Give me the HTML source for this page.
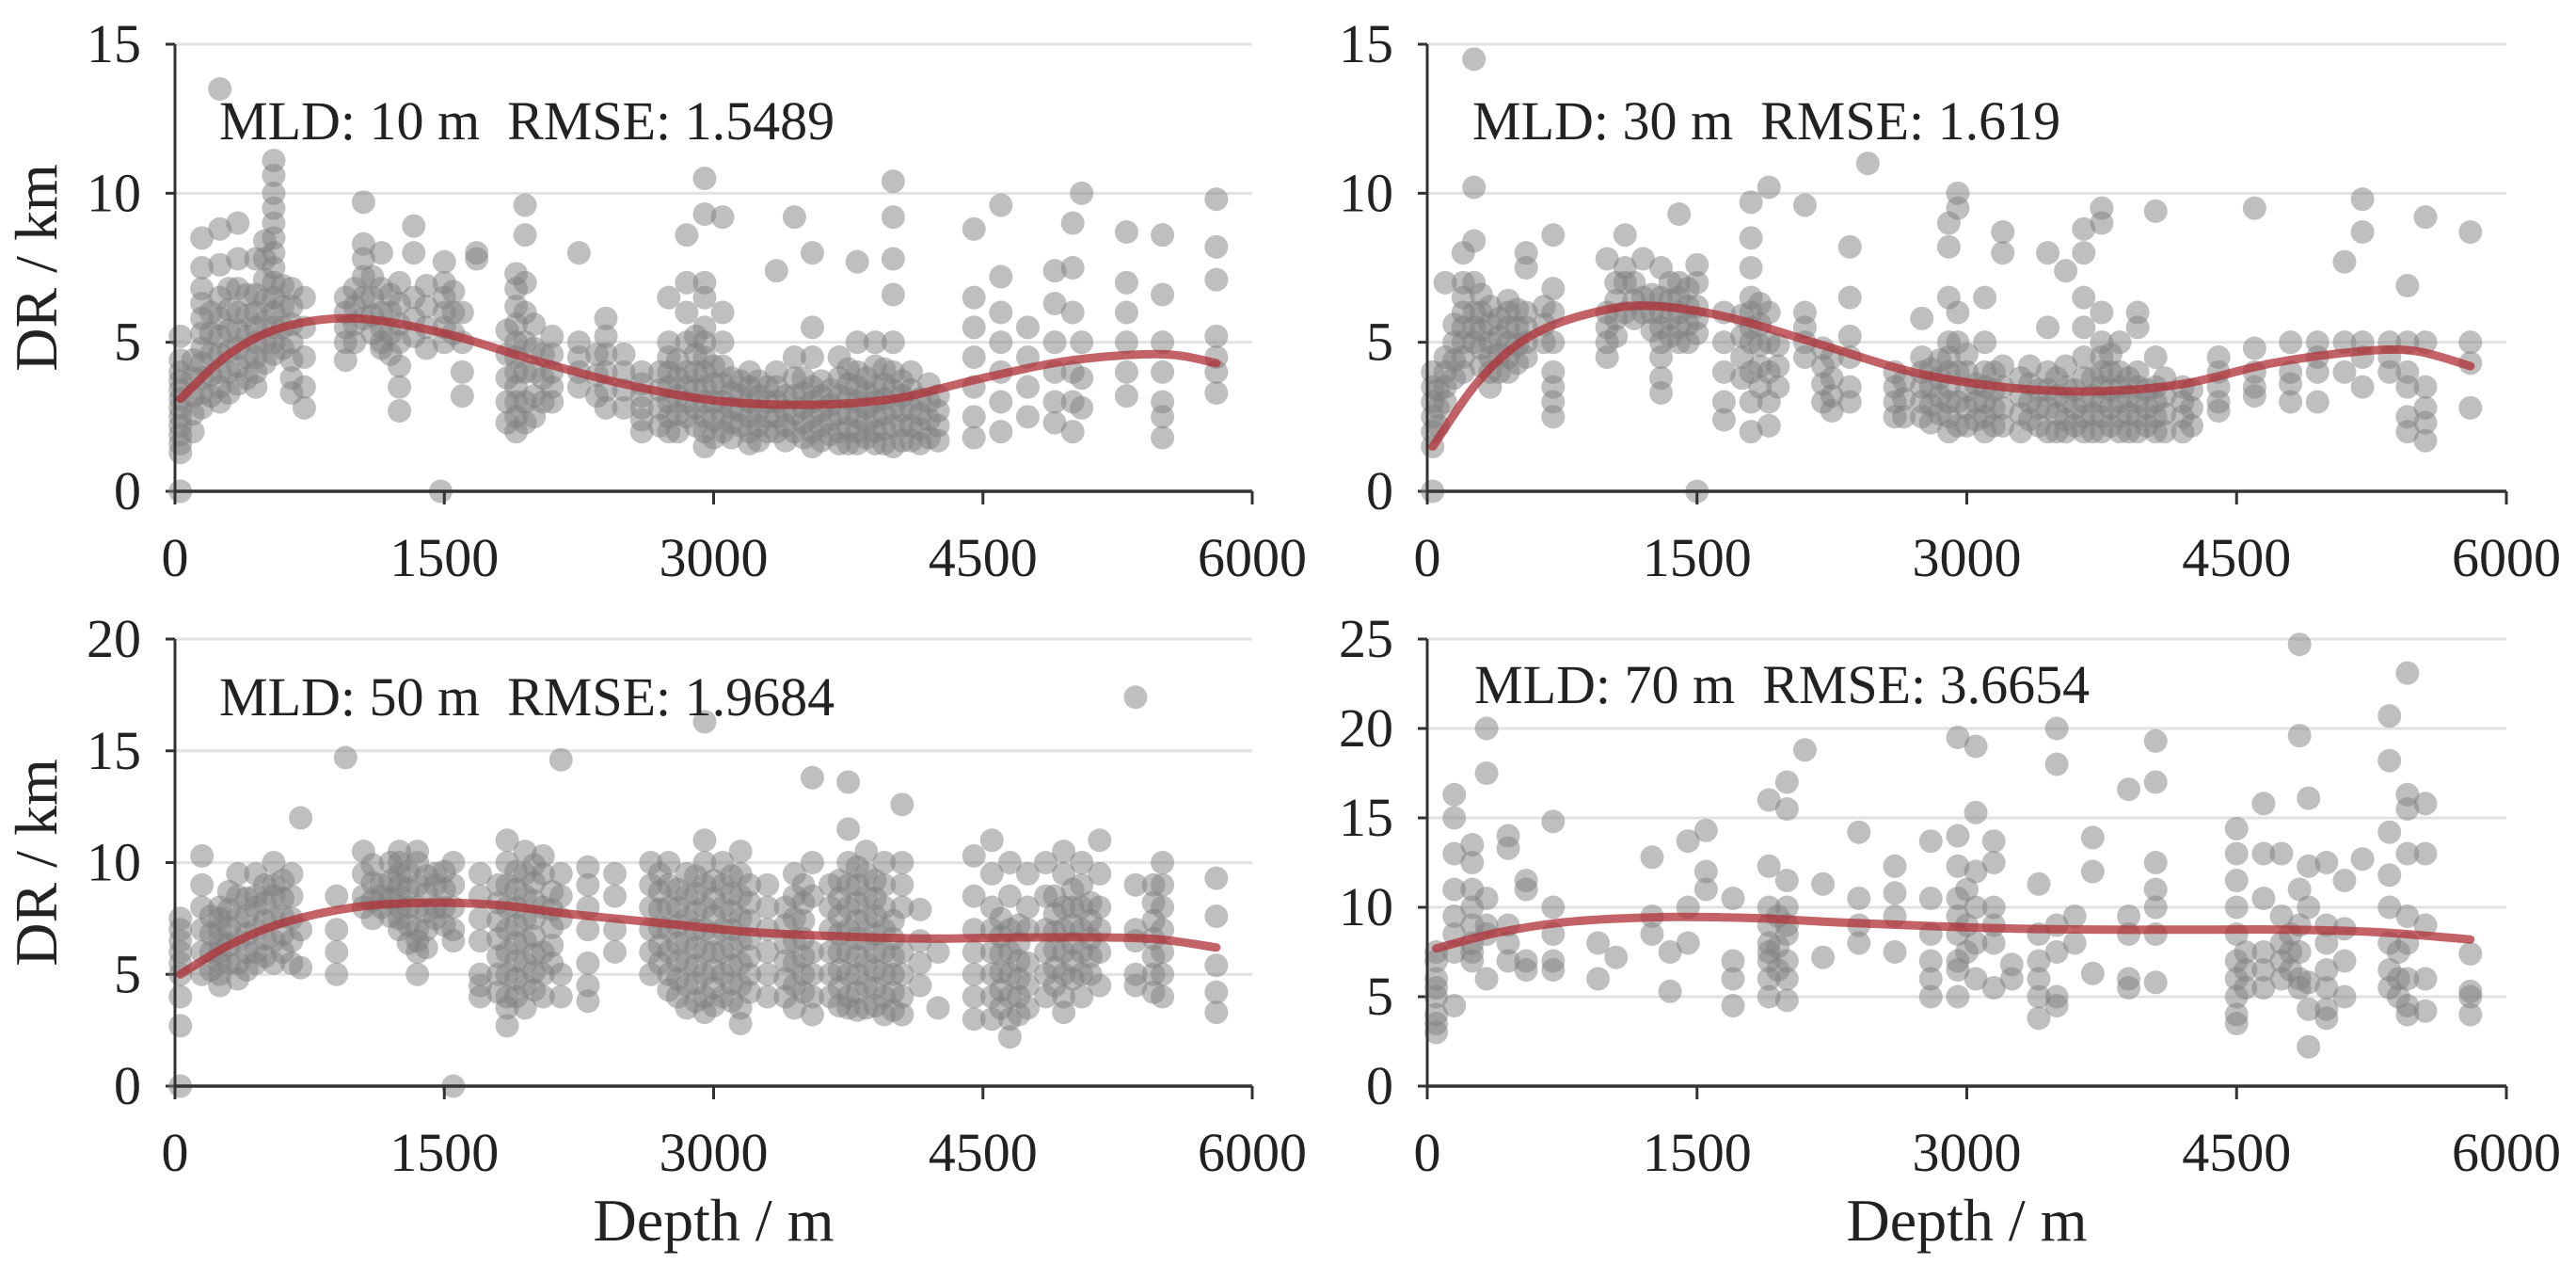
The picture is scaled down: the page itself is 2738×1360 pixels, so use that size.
<!DOCTYPE html>
<html><head><meta charset="utf-8"><style>
html,body{margin:0;padding:0;background:#fff}
svg{display:block}
text{font-family:"Liberation Serif",serif;fill:#222;white-space:pre}
</style></head><body>
<svg id="chart" width="2738" height="1360" viewBox="0 0 2738 1360" xmlns="http://www.w3.org/2000/svg"></svg>
<script>
// ---- data ----
const xTicks = [0,1500,3000,4500,6000];
const yTicks1 = [0,5,10,15];
const yTicks2 = [0,5,10,15];
const yTicks3 = [0,5,10,15,20];
const yTicks4 = [0,5,10,15,20,25];
const labels = ["MLD: 10 m  RMSE: 1.5489","MLD: 30 m  RMSE: 1.619","MLD: 50 m  RMSE: 1.9684","MLD: 70 m  RMSE: 3.6654"];

const pts1 = [
[30,[0,1.3,1.6,1.9,2.2,2.5,2.8,3.1,3.4,3.7,4.0,4.4,5.2]],[150,[2.8,3.3,3.8,4.3,4.8,5.3,5.8,6.3,6.8,7.5,8.5]],
[250,[13.5,8.8,7.6,6.5,5.8,5.2,4.6,4.0,3.5,3.0]],[350,[9.0,7.8,6.8,6.0,5.4,4.8,4.2,3.6]],
[450,[7.8,6.6,6.0,5.5,5.0,4.5,4.0,3.5]],[550,[11.1,10.6,10.0,9.5,9.0,8.5,8.0,7.5,7.0,6.5,6.0,5.5,5.0,4.6]],
[650,[6.8,6.2,5.6,5.0,4.4,3.8,3.3]],[720,[6.5,5.5,4.5,3.5,2.8]],[950,[6.5,6.0,5.5,5.0,4.4]],
[1050,[9.7,8.3,7.8,7.2,6.5,5.8]],[1150,[8.0,6.8,6.0,5.5,5.0,4.8]],[1250,[7.0,6.3,5.6,5.0,4.2,3.5,2.7]],
[1330,[8.9,8.0,6.5,5.8,5.2]],[1480,[0]],[1500,[7.7,7.0,6.5,6.0,5.5,5.0]],[1600,[6.0,5.0,4.0,3.2]],[1680,[8.0,7.8]],
[1900,[7.3,6.8,6.2,5.6,5.0,4.5,4.0,3.5,3.0,2.5,2.0]],[1950,[9.6,8.6,7.0,6.0,5.0,4.0,3.0,2.3]],
[2100,[5.2,4.6,4.0,3.5,3.0]],[2250,[8.0,5.0,4.5,4.0,3.5]],[2400,[5.8,5.2,4.6,4.0,3.4,2.8]],
[2600,[4.0,3.6,3.2,2.8,2.4,2.0]],[2750,[6.5,5.0,4.5,4.0,3.5,3.0,2.5,2.0]],[2850,[8.6,7.0,6.0,5.0,4.0,3.5,3.0,2.5]],
[2950,[10.5,9.3,7.0,6.5,5.5,5.0,4.5,4.0,3.5,3.0,2.5,2.0,1.5]],[3050,[9.2,6.0,5.0,4.2,3.6,3.0,2.5,2.0]],
[3200,[4.0,3.5,3.0,2.5,2.0,1.6]],[3350,[7.4,4.0,3.5,3.0,2.5,2.0]],[3450,[9.2,4.5,3.8,3.2,2.6,2.0]],
[3550,[8.0,5.5,4.5,3.5,3.0,2.5,2.0,1.5]],[3700,[4.5,3.8,3.2,2.6,2.0,1.6]],[3800,[7.7,5.0,4.0,3.5,3.0,2.5,2.0,1.6]],
[3900,[5.0,4.2,3.5,3.0,2.5,2.0,1.6]],[4000,[10.4,9.2,7.8,6.6,5.0,4.0,3.4,2.8,2.2,1.5]],[4100,[4.0,3.4,2.8,2.2,1.7]],
[4200,[3.6,3.0,2.4,1.8]],[4450,[8.8,6.5,5.5,4.5,3.5,2.5,1.8]],[4600,[9.6,7.2,6.0,5.0,4.0,3.0,2.0]],
[4750,[5.5,4.5,3.5,2.5]],[4900,[7.4,6.3,5.0,4.0,3.0,2.3]],[5000,[9.0,7.5,6.0,4.0,3.0,2.0]],[5050,[10.0,5.0,3.8,2.8]],
[5300,[8.7,7.0,6.0,5.0,4.0,3.2]],[5500,[8.6,6.6,5.0,4.0,3.0,2.5,1.8]],[5800,[9.8,8.2,7.1,5.2,4.5,4.0,3.3]],
[100,[2.0,2.6,3.2,3.8,4.4]],[200,[3.2,3.9,4.6,5.3,6.0]],[300,[3.3,4.0,4.7,5.4,6.1,6.8]],[400,[3.8,4.5,5.2,5.9,6.6]],
[500,[4.3,5.0,5.7,6.4,7.1,7.8,8.4]],[600,[4.8,5.5,6.2,6.9]],[1000,[5.0,5.6,6.2,6.8]],[1100,[5.3,5.9,6.5,7.2]],
[1200,[4.6,5.3,6.0,6.6]],[1400,[4.8,5.5,6.2,6.9]],[1550,[5.3,6.0,6.7]],[1850,[2.3,3.0,3.8,4.6,5.4]],[2000,[2.5,3.2,4.0,4.8,5.6]],
[2050,[3.0,3.8,4.6]],[2350,[3.2,3.9,4.6]],[2500,[2.8,3.4,4.0,4.6]],[2700,[2.2,2.8,3.4,4.0]],[2800,[2.0,2.6,3.2,3.8,4.4]],
[2900,[2.2,2.8,3.4,4.0,4.6,5.2]],[3000,[1.8,2.4,3.0,3.6,4.2]],[3100,[1.8,2.3,2.8,3.3,3.8]],[3150,[2.2,2.7,3.2,3.7]],
[3250,[1.7,2.2,2.7,3.2,3.7]],[3300,[2.0,2.5,3.0,3.5]],[3400,[1.7,2.2,2.7,3.2]],[3500,[1.8,2.3,2.8,3.3,3.8]],
[3600,[1.7,2.2,2.7,3.2,3.7]],[3650,[1.9,2.4,2.9,3.4]],[3750,[1.6,2.1,2.6,3.1,3.6,4.1]],[3850,[1.8,2.3,2.8,3.3,3.8]],
[3950,[1.6,2.1,2.6,3.1,3.6,4.1]],[4050,[1.7,2.2,2.7,3.2,3.7]],[4150,[1.6,2.1,2.6,3.1]],[4250,[1.7,2.2,2.7,3.2]]
];
const pts2 = [
[30,[0,1.5,2.0,2.5,3.0,3.5,4.0]],[100,[7.0,4.5,4.0,3.5,3.0]],[200,[8.0,7.0,6.5,6.0,5.5,5.0,4.5,4.0]],
[260,[14.5,10.2,8.4,7.0,6.0,5.5,5.0]],[350,[6.2,5.6,5.0,4.5,4.0,3.5]],[450,[6.4,6.0,5.5,5.0,4.5,4.0]],
[550,[8.0,7.5,6.0,5.5,5.0,4.5]],[700,[8.6,6.8,6.0,5.0,4.0,3.5,3.0,2.5]],[1000,[7.8,6.0,5.5,5.0,4.5]],
[1100,[8.6,7.5,7.0,6.0]],[1200,[7.8,6.5,6.0]],[1300,[7.5,6.5,6.0,5.5,5.0,4.5,3.8,3.3]],
[1400,[9.3,7.0,6.5,6.0,5.5,5.0]],[1500,[7.6,7.0,6.2,5.8,5.3,0]],[1650,[6.0,5.0,4.0,3.0,2.4]],
[1800,[9.7,8.5,7.5,6.5,6.0,5.5,5.0,4.0,3.0,2.0]],[1900,[10.2,6.0,5.0,4.0,3.0,2.2]],[2100,[9.6,6.0,5.5,5.0,4.5]],
[2250,[4.5,3.8,3.2,2.7]],[2350,[8.2,6.5,5.2,4.5,3.5,3.0]],[2450,[11.0]],[2600,[4.0,3.5,3.0,2.5]],
[2750,[5.8,4.5,4.0,3.5,3.0,2.5]],[2900,[9.0,8.2,6.5,5.0,4.5,4.0,3.5,3.0,2.5,2.0]],[2950,[10.0,9.5,6.0,5.0,4.0,3.0,2.2]],
[3100,[6.5,5.0,4.0,3.5,3.0,2.5,2.0]],[3200,[8.7,8.0,4.2,3.5,2.8,2.2]],[3350,[4.2,3.6,3.0,2.4]],
[3450,[8.0,5.5,4.0,3.4,2.8,2.0]],[3550,[7.4,4.2,3.5,3.0,2.4,2.0]],[3650,[8.8,8.0,6.5,5.5,4.5,3.8,3.0,2.5,2.0]],
[3750,[9.5,9.0,6.0,5.0,4.5,4.0,3.5,3.0,2.5,2.0]],[3850,[5.0,4.0,3.5,3.0,2.5,2.0]],[3950,[6.0,5.5,4.0,3.5,3.0,2.5,2.0]],
[4050,[9.4,4.5,3.5,3.0,2.5,2.0]],[4200,[3.5,3.0,2.5,2.0]],[4400,[4.5,4.0,3.5,3.0,2.7]],[4600,[9.5,4.8,4.0,3.5,3.2]],
[4800,[5.0,4.0,3.6,3.0]],[4950,[5.0,4.5,4.0,3.0]],[5100,[7.7,5.0,4.0]],[5200,[9.8,8.7,5.0,4.5,3.5]],
[5350,[5.0,4.5,4.0]],[5450,[6.9,5.0,4.0,3.5,2.5,2.0]],[5550,[9.2,5.0,3.5,2.8,2.3,1.7]],[5800,[8.7,5.0,4.3,2.8]],
[60,[2.2,2.8,3.4]],[150,[3.8,4.4,5.0,5.6]],[300,[4.2,4.8,5.4,6.0,6.6]],[400,[4.0,4.6,5.2,5.8]],[500,[4.3,4.9,5.5,6.1]],
[650,[5.0,5.6,6.2]],[1050,[5.2,5.8,6.4,7.0]],[1150,[5.8,6.4,7.0]],[1250,[5.4,6.0,6.6]],[1350,[5.2,5.8,6.4,7.0]],
[1450,[5.0,5.6,6.2,6.8]],[1750,[3.8,4.5,5.2,5.9]],[1850,[3.5,4.2,4.9,5.6,6.3]],[1950,[3.5,4.2,4.9]],[2200,[3.0,3.6,4.2,4.8]],
[2650,[2.5,3.1,3.7]],[2800,[2.3,2.9,3.5,4.1]],[2850,[2.6,3.2,3.8,4.4]],[3000,[2.2,2.8,3.4,4.0,4.6]],[3050,[2.4,3.0,3.6]],
[3150,[2.2,2.8,3.4,4.0]],[3300,[2.0,2.6,3.2,3.8]],[3400,[2.2,2.8,3.4]],[3500,[2.0,2.6,3.2,3.8]],[3600,[2.2,2.8,3.4]],
[3700,[2.0,2.6,3.2,3.8]],[3800,[2.2,2.8,3.4,4.0,4.6]],[3900,[2.0,2.6,3.2,3.8]],[4000,[2.2,2.8,3.4]],[4100,[2.0,2.6,3.2,3.8]],
[4250,[2.2,2.8,3.4]]
];
const pts3 = [
[30,[0,5.0,5.5,6.0,6.5,7.0,7.5,4.0,2.7]],[150,[10.3,9.0,8.0,7.0,6.0,5.0]],[250,[8.0,7.5,7.0,6.5,6.0,5.5,5.0,4.5]],
[350,[9.5,8.5,7.5,6.5,5.5,4.8]],[450,[9.5,8.5,8.0,7.0,6.0,5.5]],[550,[10.0,9.0,8.5,7.5,6.5,5.5]],
[650,[9.5,8.5,7.5,6.5,5.5]],[700,[12.0,7.0,5.3]],[900,[8.5,7.0,6.0,5.0]],[950,[14.7]],
[1050,[10.5,9.5,8.5,8.0]],[1150,[9.0,8.5,8.0]],[1250,[10.5,10.0,9.5,9.0,8.5,8.0,7.5,7.0]],
[1350,[10.5,10.0,9.0,8.0,7.0,6.5,6.0,5.0]],[1450,[9.5,9.0,8.0,7.5]],[1550,[10.0,9.0,8.0,7.0,6.5,0]],
[1700,[9.5,8.5,7.5,6.5,5.0,4.5,4.0]],[1850,[11.0,10.0,9.0,8.0,7.0,6.0,5.0,4.0,3.5,2.7]],
[1950,[10.5,9.5,8.5,7.5,6.5,5.5,4.5,3.5]],[2050,[10.3,9.5,8.0,6.0,5.0,4.0]],[2150,[14.6,9.5,8.5,7.5,5.0,4.0]],
[2300,[9.8,9.0,8.0,7.0,5.5,4.5,3.8]],[2450,[9.5,8.5,7.0,6.0]],[2650,[10.0,9.0,8.0,7.0,6.0,5.0]],
[2750,[10.0,9.0,8.0,7.0,6.0,5.0,4.3]],[2850,[9.5,8.5,7.5,6.5,5.5,4.5,3.5]],
[2950,[16.3,11.0,10.0,9.0,8.0,7.0,6.0,5.0,4.0,3.3]],[3050,[10.0,9.0,8.0,7.0,6.0,5.0,4.0]],
[3150,[10.5,9.5,8.5,7.5,6.5,5.5,4.5,3.5,2.8]],[3300,[9.0,8.0,7.0,6.0,5.0,4.0]],[3450,[9.5,8.5,7.5,6.5,5.5,4.5,3.5]],
[3550,[13.8,10.0,8.5,6.0,5.0,4.0,3.2]],[3650,[9.0,8.0,7.0,6.0,5.0,4.0]],
[3750,[13.6,11.5,10.0,9.0,8.0,7.0,6.0,5.0,4.0,3.5]],[3850,[10.5,9.5,8.5,7.5,6.5,5.5,4.5,3.5]],
[3950,[10.0,9.0,8.0,7.0,6.0,5.0,4.0,3.2]],[4050,[12.6,10.0,9.0,8.0,6.0,5.0,4.0,3.2]],[4150,[7.9,6.5,5.5,4.5]],
[4250,[6.0,3.5]],[4450,[10.3,8.5,7.0,6.0,5.0,4.0,3.0]],[4550,[11.0,9.5,8.0,7.0,6.0,5.0,4.0,3.0]],
[4650,[10.0,8.5,7.0,6.0,5.0,4.0,3.0,2.2]],[4750,[9.5,8.0,7.0,5.5,4.5,3.5]],[4850,[10.0,8.5,7.0,6.0,5.0,4.0]],
[4950,[10.5,9.5,8.0,7.0,6.0,5.0,4.0,3.3]],[5050,[10.0,9.0,8.0,7.0,6.0,5.0,4.0]],[5150,[11.0,9.5,8.0,7.0,6.0,4.5]],
[5350,[17.4,9.0,7.0,6.5,5.0,4.5]],[5500,[10.0,9.0,8.0,7.0,6.0,5.0,4.0]],[5800,[9.3,7.6,5.4,4.2,3.3]],
[200,[5.2,6.0,6.8,7.6]],[300,[5.5,6.3,7.1,7.9,8.7]],[400,[5.2,6.0,6.8,7.6,8.4]],[500,[5.8,6.6,7.4,8.2,9.0]],
[600,[6.0,6.8,7.6,8.4,9.2]],[1100,[7.5,8.3,9.1,9.9]],[1200,[7.6,8.4,9.2,10.0]],[1300,[6.4,7.2,8.0,8.8,9.6]],
[1400,[6.2,7.0,7.8,8.6,9.4]],[1500,[7.2,8.0,8.8,9.6]],[1800,[4.2,5.0,5.8,6.6,7.4,8.2,9.0]],[1900,[4.0,4.8,5.6,6.4,7.2,8.0,8.8,9.6]],
[2000,[4.3,5.1,5.9,6.7,7.5,8.3,9.1,9.9]],[2100,[5.5,6.3,7.1,7.9,8.7]],[2700,[5.5,6.3,7.1,7.9,8.7,9.5]],
[2800,[4.0,4.8,5.6,6.4,7.2,8.0,8.8]],[2900,[3.8,4.6,5.4,6.2,7.0,7.8,8.6,9.4]],[3000,[3.6,4.4,5.2,6.0,6.8,7.6,8.4,9.2]],
[3100,[3.8,4.6,5.4,6.2,7.0,7.8,8.6,9.4]],[3200,[4.2,5.0,5.8,6.6,7.4,8.2,9.0]],[3400,[4.0,4.8,5.6,6.4,7.2,8.0]],
[3500,[4.2,5.0,5.8,6.6,7.4,8.2,9.0]],[3700,[3.6,4.4,5.2,6.0,6.8,7.6,8.4,9.2]],[3800,[3.4,4.2,5.0,5.8,6.6,7.4,8.2,9.0,9.8]],
[3900,[3.6,4.4,5.2,6.0,6.8,7.6,8.4,9.2]],[4000,[3.4,4.2,5.0,5.8,6.6,7.4]],[4600,[3.5,4.3,5.1,5.9,6.7,7.5]],
[4700,[3.2,4.0,4.8,5.6,6.4,7.2]],[4900,[4.5,5.3,6.1,6.9,7.7,8.5]],[5000,[4.8,5.6,6.4,7.2,8.0,8.8]],[5100,[5.0,5.8,6.6,7.4,8.2]],
[5450,[4.2,5.0,5.8,6.6,7.4,8.2,9.0]]
];
const pts4 = [
[50,[3.0,3.5,4.0,5.0,5.5,6.0,7.0,7.5]],[150,[16.3,15.0,13.0,11.0,9.5,8.5,7.5,4.5]],[250,[13.5,12.5,11.0,10.0,9.0,8.0,7.5,7.0]],
[330,[20.0,17.5,10.5,9.0,8.5,6.0]],[450,[14.0,13.3,9.0,8.0,7.0]],[550,[11.5,11.0,7.0,6.5]],[700,[14.8,10.0,8.5,7.0,6.5]],
[950,[8.0,6.0]],[1050,[7.2]],[1250,[12.8,9.5,8.5]],[1350,[7.5,5.3]],[1450,[13.7,10.0,8.0]],[1550,[14.3,12.0,11.0]],
[1700,[10.5,7.0,6.0,4.5]],[1900,[16.0,12.3,10.0,9.0,8.0,7.5,7.0,6.0,5.0]],[2000,[17.0,15.5,11.5,10.0,9.0,8.5,7.0,6.0,4.8]],
[2100,[18.8]],[2200,[11.3,7.2]],[2400,[14.2,10.5,9.0,8.0]],[2600,[12.3,10.8,9.5,7.5]],[2800,[13.7,10.5,8.5,7.0,6.0,5.0]],
[2950,[19.5,14.0,12.3,10.5,9.5,8.5,7.0,6.5,5.0]],[3050,[19.0,15.3,12.0,10.0,8.0,6.0]],[3150,[13.7,12.5,10.0,9.0,8.0,5.5]],
[3250,[6.8,6.0]],[3400,[11.3,8.5,7.0,6.0,5.0,3.8]],[3500,[20.0,18.0,9.0,7.5,5.0,4.5]],[3600,[9.5,8.0]],
[3700,[13.9,12.0,6.3]],[3900,[16.6,9.5,8.5,6.0,5.5]],[4050,[19.3,17.0,12.5,11.0,10.0,8.5,5.8]],
[4500,[14.4,13.0,11.5,10.0,8.5,7.0,6.0,5.0,4.0,3.5]],[4650,[15.8,13.0,10.5,7.5,6.5,5.5]],[4750,[13.0,9.5,8.0,7.0,6.0]],
[4850,[24.7,19.6,11.0,9.0,7.5,6.0,5.5]],[4900,[16.1,12.3,10.0,5.8,4.3,2.2]],[5000,[12.5,9.0,8.0,6.5,5.5,4.3,3.8]],
[5100,[11.5,8.8,7.0,5.0]],[5200,[12.7]],[5350,[20.7,18.2,14.2,11.8,10.0,8.0,6.5,5.5]],
[5450,[23.1,16.3,15.5,13.0,9.5,8.0,6.0,4.5,4.0]],[5550,[15.8,13.0,9.0,6.0,4.2]],[5800,[7.4,5.3,5.0,4.0]],
[1950,[6.5,7.8,9.5]],[3000,[7.5,9.0,11.0]],[4550,[5.5,6.5,7.5]],[4800,[6.5,7.5,8.5]],[5400,[5.0,6.0,7.5]]
];
const fitX1 = [30,300,600,1000,1500,2000,2500,3000,3500,4000,4500,5000,5500,5800];
const fitY1 = [3.1,4.6,5.5,5.8,5.3,4.4,3.6,3.05,2.9,3.1,3.8,4.4,4.6,4.3];
const fitX2 = [30,300,600,1000,1300,1700,2200,2700,3200,3700,4200,4700,5200,5500,5800];
const fitY2 = [1.5,3.8,5.3,6.1,6.2,5.8,4.9,4.0,3.5,3.35,3.6,4.3,4.7,4.7,4.2];
const fitX3 = [30,300,600,1000,1400,1800,2200,2700,3200,3700,4200,4700,5200,5500,5800];
const fitY3 = [5.0,6.3,7.3,8.0,8.2,8.1,7.7,7.3,6.9,6.7,6.6,6.65,6.65,6.55,6.2];
const fitX4 = [50,400,800,1300,1800,2300,2800,3300,3800,4300,4800,5300,5800];
const fitY4 = [7.7,8.6,9.2,9.45,9.4,9.15,8.95,8.8,8.75,8.75,8.75,8.6,8.2];

// ---- layout ----
const NS="http://www.w3.org/2000/svg";
const svg=document.getElementById('chart');
function mk(tag,attrs,parent){const e=document.createElementNS(NS,tag);for(const k in attrs)e.setAttribute(k,attrs[k]);(parent||svg).appendChild(e);return e;}

const panels=[
 {x0:186,x1:1331,y0:522,y1:47,ymax:15,ticks:yTicks1,pts:pts1,fx:fitX1,fy:fitY1,lab:labels[0],lx:233,ly:148,ylab:true,xlab:false},
 {x0:1517,x1:2664,y0:522,y1:47,ymax:15,ticks:yTicks2,pts:pts2,fx:fitX2,fy:fitY2,lab:labels[1],lx:1565,ly:148,ylab:false,xlab:false},
 {x0:186,x1:1331,y0:1154,y1:679,ymax:20,ticks:yTicks3,pts:pts3,fx:fitX3,fy:fitY3,lab:labels[2],lx:233,ly:760,ylab:true,xlab:true},
 {x0:1517,x1:2664,y0:1154,y1:679,ymax:25,ticks:yTicks4,pts:pts4,fx:fitX4,fy:fitY4,lab:labels[3],lx:1567,ly:747,ylab:false,xlab:true}
];

panels.forEach((p,i)=>{
 const g=mk('g',{});
 
 
 const sx=v=>p.x0+(v/6000)*(p.x1-p.x0);
 const sy=v=>p.y0-(v/p.ymax)*(p.y0-p.y1);
 p.ticks.forEach(t=>{
  if(t>0){const gl=mk('line',{x1:p.x0,x2:p.x1,y1:sy(t),y2:sy(t),stroke:'#e2e2e2','stroke-width':3},g);
   
   }
  const tk=mk('line',{x1:p.x0-10,x2:p.x0,y1:sy(t),y2:sy(t),stroke:'#333','stroke-width':3},g);
  
  
  const tl=mk('text',{x:p.x0-36,y:sy(t)+19,'text-anchor':'end','font-size':58},g);
  tl.textContent=t;
  
  
 });
 const pg=mk('g',{fill:'rgba(128,128,128,0.5)'},g);
 
 
 p.pts.forEach(col=>{col[1].forEach(v=>{
  const c=mk('circle',{cx:sx(col[0]),cy:sy(v),r:12.5},pg);
  
  
 });});
 const ya=mk('line',{x1:p.x0,x2:p.x0,y1:p.y1,y2:p.y0,stroke:'#333','stroke-width':3},g);
 
 
 const xa=mk('line',{x1:p.x0,x2:p.x1,y1:p.y0,y2:p.y0,stroke:'#333','stroke-width':3.5},g);
 
 
 xTicks.forEach(t=>{
  const tk=mk('line',{x1:sx(t),x2:sx(t),y1:p.y0,y2:p.y0+14,stroke:'#333','stroke-width':3},g);
  
  
  const tl=mk('text',{x:sx(t),y:p.y0+90,'text-anchor':'middle','font-size':58},g);
  tl.textContent=t;
  
  
 });
 const P=p.fx.map((x,k)=>[sx(x),sy(p.fy[k])]);
 let d='M'+P[0][0]+','+P[0][1];
 for(let k=0;k<P.length-1;k++){
  const p0=P[Math.max(0,k-1)],p1=P[k],p2=P[k+1],p3=P[Math.min(P.length-1,k+2)];
  const c1=[p1[0]+(p2[0]-p0[0])/6,p1[1]+(p2[1]-p0[1])/6];
  const c2=[p2[0]-(p3[0]-p1[0])/6,p2[1]-(p3[1]-p1[1])/6];
  d+=' C'+c1[0]+','+c1[1]+' '+c2[0]+','+c2[1]+' '+p2[0]+','+p2[1];
 }
 const fl=mk('path',{d:d,fill:'none',stroke:'rgba(175,45,52,0.75)','stroke-width':9,'stroke-linecap':'round'},g);
 
 
 const an=mk('text',{x:p.lx,y:p.ly,'font-size':58},g);
 an.textContent=p.lab;
 
 
 if(p.ylab){
  const cy=(p.y0+p.y1)/2;
  const yl=mk('text',{x:0,y:0,'text-anchor':'middle','font-size':64,transform:'translate(60,'+cy+') rotate(-90)'},g);
  yl.textContent='DR / km';
  
  
 }
 if(p.xlab){
  const xl=mk('text',{x:(p.x0+p.x1)/2,y:1318,'text-anchor':'middle','font-size':64},g);
  xl.textContent='Depth / m';
  
  
 }
});
</script>
</body></html>
